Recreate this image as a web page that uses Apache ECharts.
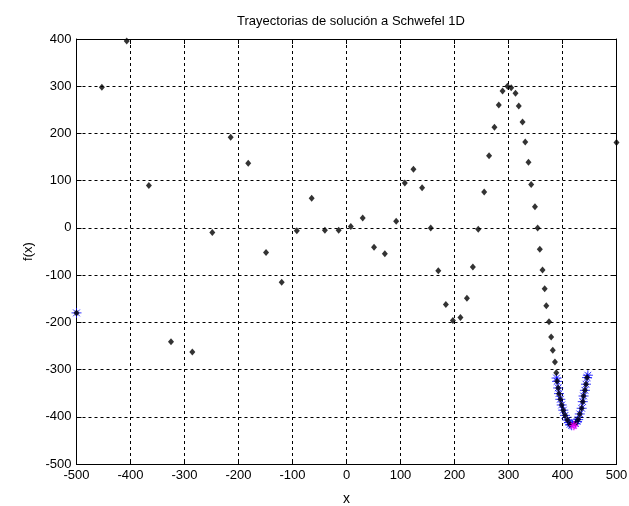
<!DOCTYPE html>
<html>
<head>
<meta charset="utf-8">
<script src="https://cdn.jsdelivr.net/npm/echarts@6/dist/echarts.min.js"></script>
<style>html,body{margin:0;padding:0;background:#fff;}#c{width:629px;height:506px;}</style>
</head>
<body>
<div id="c"></div>
<script>
const titleText = "Trayectorias de solución a Schwefel 1D";
const xTicks = [-500,-400,-300,-200,-100,0,100,200,300,400,500];
const yTicks = [-500,-400,-300,-200,-100,0,100,200,300,400];

const blackX = [-500,-453,-407,-366,-325,-285.5,-248.5,-214.5,-182,-149,-120,-92,-64.5,-40,-14.5,8,30,51,71,92,108,124,140,156,170,184,197,211,223,234,244,255,264,274,282,289,298,305,313,319,326,331,337,342,349,354,358,363,367,370,375,379,382,386,388.5,390,392,393.5,396,398.5,401.5,404.6,409,414,424,429,432,435.5,437.5,439,441.5,443.5,445.5,500];
const blackY = [-180,298,396,90,-241,-263,-10,192,137,-52,-115,-6,63,-5,-5,3,21,-41,-55,14,95,124,85,0,-91,-162,-196,-190,-149,-83,-3,76,153,213,260,290,300,297,285,258,224,182,139,92,45,0,-45,-89,-129,-165,-199,-231,-259,-284,-307,-325,-339,-351,-363,-375,-386,-397,-407,-416,-414,-406,-394,-382,-368,-356,-344,-331,-317,181];

const starX = [-500,389,390,392,393.5,396,398.5,401.5,404.6,409,412,414,417,424,427,429,432,435.5,437.5,439,441.5,443.5,445.5,447];
const starY = [-180,-318,-325,-339,-351,-363,-375,-386,-397,-407,-412,-416,-418,-414,-410,-406,-394,-382,-368,-356,-344,-331,-317,-312];

const bestX = [421];
const bestY = [-419];

const zip = (a,b) => a.map((v,i)=>[v,b[i]]);
const starPath = 'path://M5,0 L5,10 M0,5 L10,5 M1.6,1.6 L8.4,8.4 M1.6,8.4 L8.4,1.6';
const font = 'Liberation Sans, Arial, sans-serif';

const chart = echarts.init(document.getElementById('c'), null, {renderer:'canvas'});
const gridLine = {show:true, lineStyle:{color:'#000', width:1, type:[3,3]}};
chart.setOption({
  animation:false,
  backgroundColor:'#fff',
  title:{text:titleText, left:346, top:10, textAlign:'center',
    textStyle:{fontFamily:font, fontSize:13, fontWeight:'normal', color:'#000'}},
  grid:{left:76.5, right:12.5, top:39, bottom:42, containLabel:false, outerBoundsMode:'none'},
  xAxis:[{
    type:'value', min:xTicks[0], max:xTicks[xTicks.length-1], interval:100,
    name:'x', nameLocation:'middle', nameGap:28,
    nameTextStyle:{fontFamily:font, fontSize:14, color:'#000'},
    axisLine:{show:true, onZero:false, lineStyle:{color:'#000', width:1}},
    axisTick:{show:true, inside:true, length:5, lineStyle:{color:'#000'}},
    axisLabel:{fontFamily:font, fontSize:13, color:'#000', margin:5},
    splitLine:gridLine
  },{
    type:'value', position:'top', min:xTicks[0], max:xTicks[xTicks.length-1], interval:100,
    axisLine:{show:true, onZero:false, lineStyle:{color:'#000', width:1}},
    axisTick:{show:true, inside:true, length:5, lineStyle:{color:'#000'}},
    axisLabel:{show:false}, splitLine:{show:false}
  }],
  yAxis:[{
    type:'value', min:yTicks[0], max:yTicks[yTicks.length-1], interval:100,
    name:'f(x)', nameLocation:'middle', nameGap:32, nameRotate:90,
    nameTextStyle:{fontFamily:font, fontSize:13, color:'#000'},
    axisLine:{show:true, onZero:false, lineStyle:{color:'#000', width:1}},
    axisTick:{show:true, inside:true, length:5, lineStyle:{color:'#000'}},
    axisLabel:{fontFamily:font, fontSize:13, color:'#000', margin:5},
    splitLine:gridLine
  },{
    type:'value', position:'right', min:yTicks[0], max:yTicks[yTicks.length-1], interval:100,
    axisLine:{show:true, onZero:false, lineStyle:{color:'#000', width:1}},
    axisTick:{show:true, inside:true, length:5, lineStyle:{color:'#000'}},
    axisLabel:{show:false}, splitLine:{show:false}
  }],
  series:[
    {type:'scatter', data:zip(starX,starY), symbol:starPath, symbolSize:10,
      itemStyle:{color:'#0000ff', borderColor:'#0000ff', borderWidth:1}, z:3},
    {type:'scatter', data:zip(blackX,blackY), symbol:'diamond', symbolSize:[6,7],
      itemStyle:{color:'#000'}, z:4},
    {type:'scatter', data:zip(bestX,bestY), symbol:starPath, symbolSize:9,
      itemStyle:{color:'#ff00ff', borderColor:'#ff00ff', borderWidth:1.5}, z:5}
  ]
});
</script>
</body>
</html>
